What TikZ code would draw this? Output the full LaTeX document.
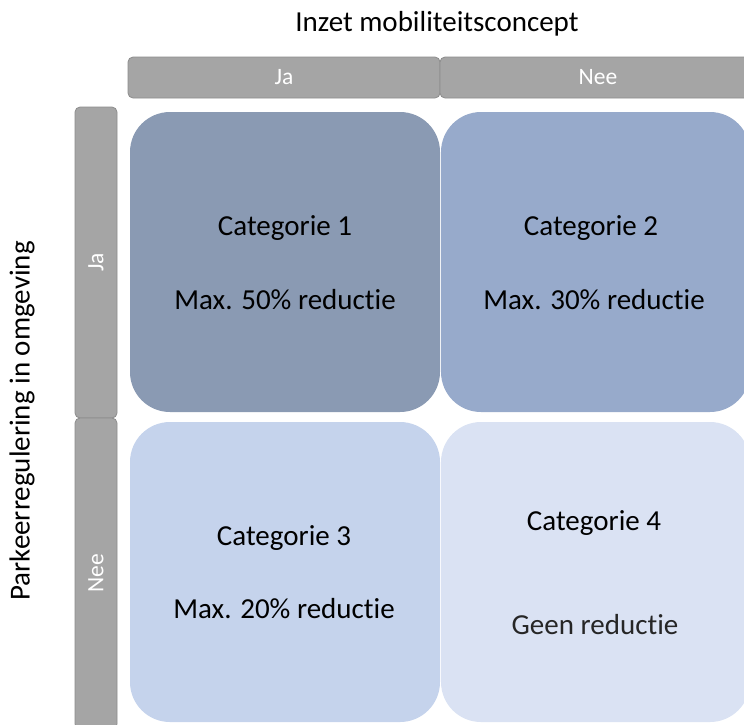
\documentclass[tikz,border=0pt]{standalone}
\usepackage{fontspec}
\setmainfont{Carlito}[Ligatures=NoCommon]
\definecolor{barfill}{HTML}{A5A5A5}
\definecolor{barline}{HTML}{8C8C8C}
\definecolor{cone}{HTML}{8A9AB3}
\definecolor{ctwo}{HTML}{97AACB}
\definecolor{cthree}{HTML}{C5D3EC}
\definecolor{cfour}{HTML}{DAE2F3}
\definecolor{txtgray}{HTML}{262626}
\tikzset{
  bar/.style={draw=barline, fill=barfill, line width=0.8pt, rounded corners=5pt, inner sep=0pt, text=white, font=\fontsize{23.5}{27}\selectfont},
  catbox/.style={rounded corners=40pt, inner sep=0pt, draw=none},
  cattext/.style={font=\fontsize{29}{33}\selectfont, text=black, inner sep=0pt},
  title/.style={font=\fontsize{29}{33}\selectfont, text=black, inner sep=0pt}
}
\begin{document}
\begin{tikzpicture}[x=1pt,y=-1pt]
\useasboundingbox (0,0) rectangle (744,724);
\clip (0,0) rectangle (744,724);
% header
\node[title] (t1) at (437,24) {Inzet mobiliteitsconcept};
\node[title, rotate=90] (t2) at (22,421) {Parkeerregulering in omgeving};
% bars
\node[bar, minimum width=312pt, minimum height=41pt] (hja) at (284,77.5) {Ja};
\node[bar, minimum width=316pt, minimum height=41pt] (hnee) at (598,77.5) {Nee};
\node[bar, minimum width=42pt, minimum height=311pt] (vja) at (96,262.5) {\rotatebox{90}{Ja}};
\node[bar, minimum width=42pt, minimum height=311pt] (vnee) at (96,573.5) {\rotatebox{90}{Nee}};
% category boxes
\node[catbox, fill=cone, minimum width=310pt, minimum height=300pt] (c1) at (285,262) {};
\node[catbox, fill=ctwo, minimum width=309pt, minimum height=300pt] (c2) at (595.5,262) {};
\node[catbox, fill=cthree, minimum width=310pt, minimum height=300pt] (c3) at (285,572) {};
\node[catbox, fill=cfour, minimum width=309pt, minimum height=300pt] (c4) at (595.5,572) {};
% texts
\node[cattext] (l1a) at (285,228) {Categorie 1};
\node[cattext] (l1b) at (285,300) {Max. 50\% reductie};
\node[cattext] (l2a) at (591,228) {Categorie 2};
\node[cattext] (l2b) at (594,300) {Max. 30\% reductie};
\node[cattext] (l3a) at (284,538) {Categorie 3};
\node[cattext] (l3b) at (284,609) {Max. 20\% reductie};
\node[cattext] (l4a) at (594,523) {Categorie 4};
\node[cattext, text=txtgray] (l4b) at (595,625) {Geen reductie};
\end{tikzpicture}
\end{document}
